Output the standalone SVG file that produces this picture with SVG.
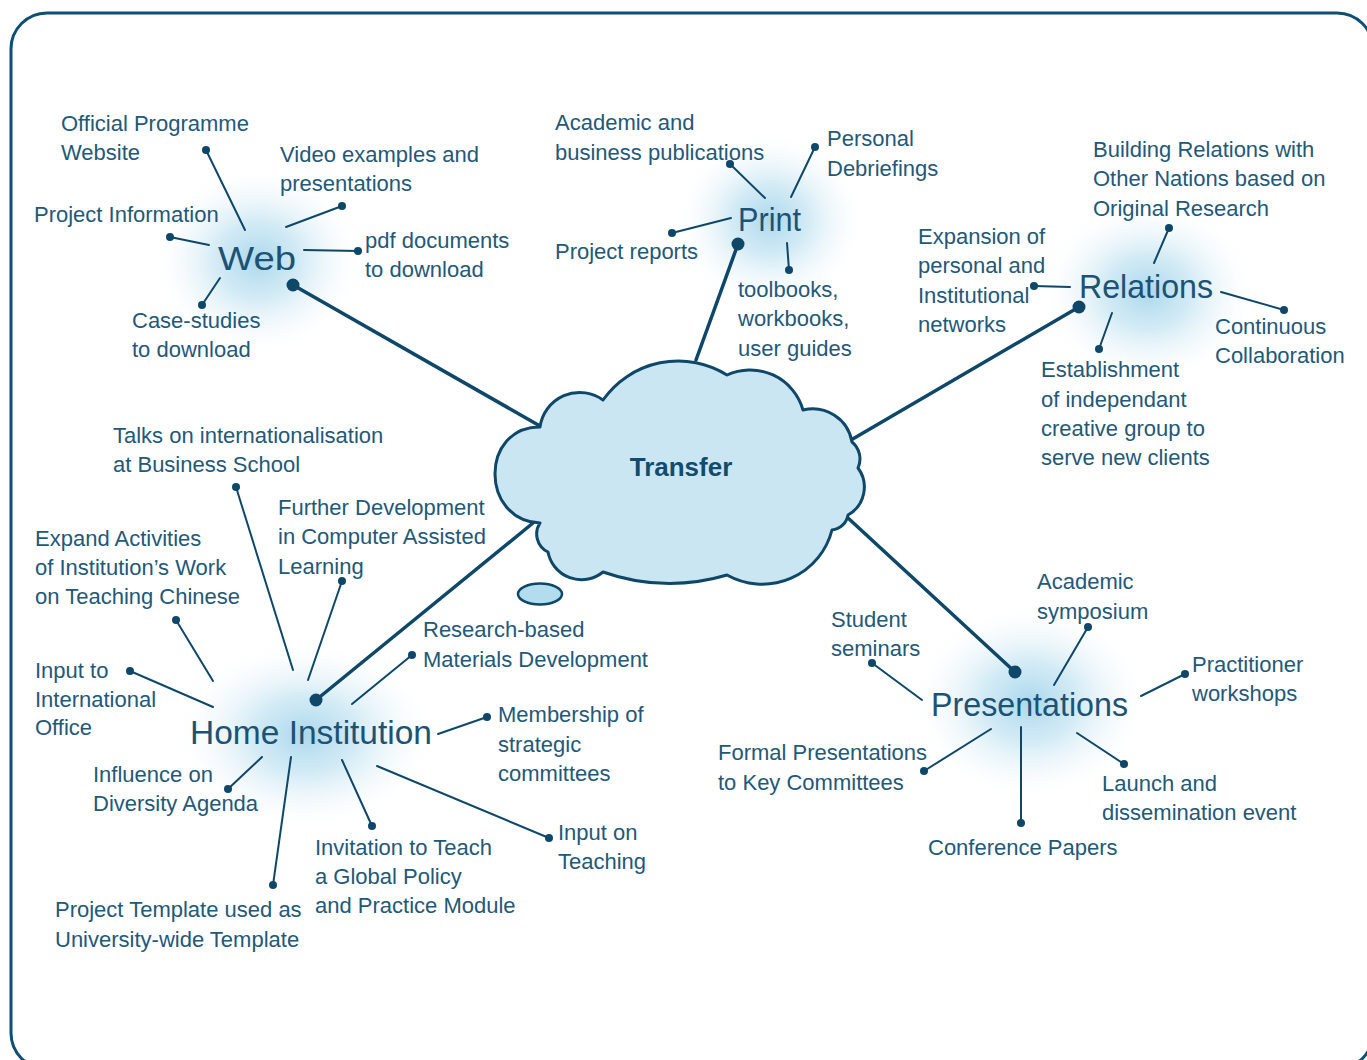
<svg xmlns="http://www.w3.org/2000/svg" width="1367" height="1060" viewBox="0 0 1367 1060">
<defs>
<radialGradient id="glow">
<stop offset="0" stop-color="#a6d6eb" stop-opacity="0.95"/>
<stop offset="0.4" stop-color="#c4e4f2" stop-opacity="0.75"/>
<stop offset="0.75" stop-color="#e6f3f9" stop-opacity="0.35"/>
<stop offset="1" stop-color="#ffffff" stop-opacity="0"/>
</radialGradient>
</defs>
<style>
.t{font-family:"Liberation Sans",Arial,sans-serif;font-size:22px;fill:#235878}
.h{font-family:"Liberation Sans",Arial,sans-serif;font-size:34px;fill:#1d5274}
.ln{stroke:#0f4769;stroke-width:2;fill:none;stroke-linecap:round}
.mn{stroke:#0f4769;stroke-width:3.5;fill:none;stroke-linecap:round}
.d{fill:#0f4769}
</style>
<rect width="1367" height="1060" fill="#ffffff"/>
<rect x="11" y="13" width="1362" height="1056" rx="36" ry="36" fill="none" stroke="#0f4f75" stroke-width="3"/>

<g id="glows">
<ellipse cx="258" cy="260" rx="105" ry="95" fill="url(#glow)"/>
<ellipse cx="770" cy="220" rx="95" ry="88" fill="url(#glow)"/>
<ellipse cx="1148" cy="292" rx="108" ry="92" fill="url(#glow)"/>
<ellipse cx="305" cy="735" rx="130" ry="95" fill="url(#glow)"/>
<ellipse cx="1030" cy="702" rx="118" ry="98" fill="url(#glow)"/>
</g>

<g id="connectors">
<line class="mn" x1="293" y1="285" x2="540" y2="426"/>
<line class="mn" x1="738" y1="244" x2="696" y2="360"/>
<line class="mn" x1="1079" y1="307" x2="851" y2="440"/>
<line class="mn" x1="316" y1="700" x2="533" y2="523"/>
<line class="mn" x1="1015" y1="672" x2="848" y2="518"/>
<circle class="d" cx="293" cy="285" r="6.5"/>
<circle class="d" cx="738" cy="244" r="6.5"/>
<circle class="d" cx="1079" cy="307" r="6.5"/>
<circle class="d" cx="316" cy="700" r="6.5"/>
<circle class="d" cx="1015" cy="672" r="6.5"/>
<line class="ln" x1="206" y1="150" x2="245" y2="230"/><circle class="d" cx="206" cy="150" r="4"/>
<line class="ln" x1="286" y1="227" x2="342" y2="206"/><circle class="d" cx="342" cy="206" r="4"/>
<line class="ln" x1="170" y1="237" x2="209" y2="245"/><circle class="d" cx="170" cy="237" r="4"/>
<line class="ln" x1="304" y1="250" x2="358" y2="251"/><circle class="d" cx="358" cy="251" r="4"/>
<line class="ln" x1="220" y1="278" x2="202" y2="305"/><circle class="d" cx="202" cy="305" r="4"/>
<line class="ln" x1="730" y1="164" x2="765" y2="198"/><circle class="d" cx="730" cy="164" r="4"/>
<line class="ln" x1="815" y1="147" x2="791" y2="197"/><circle class="d" cx="815" cy="147" r="4"/>
<line class="ln" x1="672" y1="233" x2="731" y2="218"/><circle class="d" cx="672" cy="233" r="4"/>
<line class="ln" x1="787" y1="243" x2="789" y2="270"/><circle class="d" cx="789" cy="270" r="4"/>
<line class="ln" x1="1169" y1="228" x2="1154" y2="263"/><circle class="d" cx="1169" cy="228" r="4"/>
<line class="ln" x1="1034" y1="286" x2="1070" y2="287"/><circle class="d" cx="1034" cy="286" r="4"/>
<line class="ln" x1="1221" y1="292" x2="1284" y2="310"/><circle class="d" cx="1284" cy="310" r="4"/>
<line class="ln" x1="1112" y1="313" x2="1099" y2="349"/><circle class="d" cx="1099" cy="349" r="4"/>
<line class="ln" x1="236" y1="487" x2="293" y2="670"/><circle class="d" cx="236" cy="487" r="4"/>
<line class="ln" x1="342" y1="581" x2="308" y2="680"/><circle class="d" cx="342" cy="581" r="4"/>
<line class="ln" x1="176" y1="620" x2="213" y2="681"/><circle class="d" cx="176" cy="620" r="4"/>
<line class="ln" x1="130" y1="671" x2="213" y2="707"/><circle class="d" cx="130" cy="671" r="4"/>
<line class="ln" x1="412" y1="655" x2="352" y2="704"/><circle class="d" cx="412" cy="655" r="4"/>
<line class="ln" x1="438" y1="734" x2="487" y2="717"/><circle class="d" cx="487" cy="717" r="4"/>
<line class="ln" x1="262" y1="757" x2="228" y2="789"/><circle class="d" cx="228" cy="789" r="4"/>
<line class="ln" x1="291" y1="757" x2="273" y2="885"/><circle class="d" cx="273" cy="885" r="4"/>
<line class="ln" x1="342" y1="760" x2="372" y2="826"/><circle class="d" cx="372" cy="826" r="4"/>
<line class="ln" x1="377" y1="766" x2="549" y2="838"/><circle class="d" cx="549" cy="838" r="4"/>
<line class="ln" x1="1088" y1="627" x2="1054" y2="685"/><circle class="d" cx="1088" cy="627" r="4"/>
<line class="ln" x1="872" y1="663" x2="922" y2="700"/><circle class="d" cx="872" cy="663" r="4"/>
<line class="ln" x1="1141" y1="696" x2="1185" y2="674"/><circle class="d" cx="1185" cy="674" r="4"/>
<line class="ln" x1="991" y1="729" x2="924" y2="771"/><circle class="d" cx="924" cy="771" r="4"/>
<line class="ln" x1="1021" y1="727" x2="1021" y2="823"/><circle class="d" cx="1021" cy="823" r="4"/>
<line class="ln" x1="1077" y1="733" x2="1124" y2="764"/><circle class="d" cx="1124" cy="764" r="4"/>
</g>

<g id="transfer">
<path d="M540,427 A40 40 0 0 1 603,400 A92 92 0 0 1 727,375 A55 55 0 0 1 803,410 A40 40 0 0 1 852,442 A22 22 0 0 1 858,468 A32 32 0 0 1 848,515 A18 18 0 0 1 832,530 A72 72 0 0 1 727,575 A200 200 0 0 1 603,572 A34 34 0 0 1 548,552 A20 20 0 0 1 540,523 C480,520 480,427 540,427 Z" fill="#c9e6f2" stroke="#0f4769" stroke-width="3" stroke-linejoin="round"/>
<ellipse cx="540" cy="594" rx="22" ry="10.5" fill="#b3dcee" stroke="#0f4769" stroke-width="2.5"/>
<text x="681" y="476" text-anchor="middle" font-family="'Liberation Sans',Arial,sans-serif" font-size="26" font-weight="bold" fill="#134b6e">Transfer</text>
</g>

<g id="web">
<text class="h" x="218" y="270" textLength="78" lengthAdjust="spacingAndGlyphs">Web</text>
</g>
<g id="web-official"><text class="t" x="61" y="131">Official Programme</text><text class="t" x="61" y="160">Website</text></g>
<g id="web-video"><text class="t" x="280" y="162">Video examples and</text><text class="t" x="280" y="191">presentations</text></g>
<g id="web-project"><text class="t" x="34" y="222">Project Information</text></g>
<g id="web-pdf"><text class="t" x="365" y="248">pdf documents</text><text class="t" x="365" y="277">to download</text></g>
<g id="web-case"><text class="t" x="132" y="328">Case-studies</text><text class="t" x="132" y="357">to download</text></g>

<g id="print">
<text class="h" x="738" y="231" textLength="63" lengthAdjust="spacingAndGlyphs">Print</text>
</g>
<g id="print-academic"><text class="t" x="555" y="130">Academic and</text><text class="t" x="555" y="160">business publications</text></g>
<g id="print-personal"><text class="t" x="827" y="146">Personal</text><text class="t" x="827" y="176">Debriefings</text></g>
<g id="print-reports"><text class="t" x="555" y="259">Project reports</text></g>
<g id="print-toolbooks"><text class="t" x="738" y="297">toolbooks,</text><text class="t" x="738" y="326">workbooks,</text><text class="t" x="738" y="356">user guides</text></g>

<g id="relations">
<text class="h" x="1079" y="298" textLength="134" lengthAdjust="spacingAndGlyphs">Relations</text>
</g>
<g id="rel-building"><text class="t" x="1093" y="157">Building Relations with</text><text class="t" x="1093" y="186">Other Nations based on</text><text class="t" x="1093" y="216">Original Research</text></g>
<g id="rel-expansion"><text class="t" x="918" y="244">Expansion of</text><text class="t" x="918" y="273">personal and</text><text class="t" x="918" y="303">Institutional</text><text class="t" x="918" y="332">networks</text></g>
<g id="rel-continuous"><text class="t" x="1215" y="334">Continuous</text><text class="t" x="1215" y="363">Collaboration</text></g>
<g id="rel-establishment"><text class="t" x="1041" y="377">Establishment</text><text class="t" x="1041" y="407">of independant</text><text class="t" x="1041" y="436">creative group to</text><text class="t" x="1041" y="465">serve new clients</text></g>

<g id="home">
<text class="h" x="190" y="744" textLength="242" lengthAdjust="spacingAndGlyphs">Home Institution</text>
</g>
<g id="home-talks"><text class="t" x="113" y="443">Talks on internationalisation</text><text class="t" x="113" y="472">at Business School</text></g>
<g id="home-further"><text class="t" x="278" y="515">Further Development</text><text class="t" x="278" y="544">in Computer Assisted</text><text class="t" x="278" y="574">Learning</text></g>
<g id="home-expand"><text class="t" x="35" y="546">Expand Activities</text><text class="t" x="35" y="575">of Institution’s Work</text><text class="t" x="35" y="604">on Teaching Chinese</text></g>
<g id="home-input-intl"><text class="t" x="35" y="678">Input to</text><text class="t" x="35" y="707">International</text><text class="t" x="35" y="735">Office</text></g>
<g id="home-research"><text class="t" x="423" y="637">Research-based</text><text class="t" x="423" y="667">Materials Development</text></g>
<g id="home-membership"><text class="t" x="498" y="722">Membership of</text><text class="t" x="498" y="752">strategic</text><text class="t" x="498" y="781">committees</text></g>
<g id="home-influence"><text class="t" x="93" y="782">Influence on</text><text class="t" x="93" y="811">Diversity Agenda</text></g>
<g id="home-template"><text class="t" x="55" y="917">Project Template used as</text><text class="t" x="55" y="947">University-wide Template</text></g>
<g id="home-invitation"><text class="t" x="315" y="855">Invitation to Teach</text><text class="t" x="315" y="884">a Global Policy</text><text class="t" x="315" y="913">and Practice Module</text></g>
<g id="home-input-teaching"><text class="t" x="558" y="840">Input on</text><text class="t" x="558" y="869">Teaching</text></g>

<g id="presentations">
<text class="h" x="931" y="716" textLength="197" lengthAdjust="spacingAndGlyphs">Presentations</text>
</g>
<g id="pres-academic"><text class="t" x="1037" y="589">Academic</text><text class="t" x="1037" y="619">symposium</text></g>
<g id="pres-student"><text class="t" x="831" y="627">Student</text><text class="t" x="831" y="656">seminars</text></g>
<g id="pres-practitioner"><text class="t" x="1192" y="672">Practitioner</text><text class="t" x="1192" y="701">workshops</text></g>
<g id="pres-formal"><text class="t" x="718" y="760">Formal Presentations</text><text class="t" x="718" y="790">to Key Committees</text></g>
<g id="pres-conference"><text class="t" x="928" y="855">Conference Papers</text></g>
<g id="pres-launch"><text class="t" x="1102" y="791">Launch and</text><text class="t" x="1102" y="820">dissemination event</text></g>
</svg>
